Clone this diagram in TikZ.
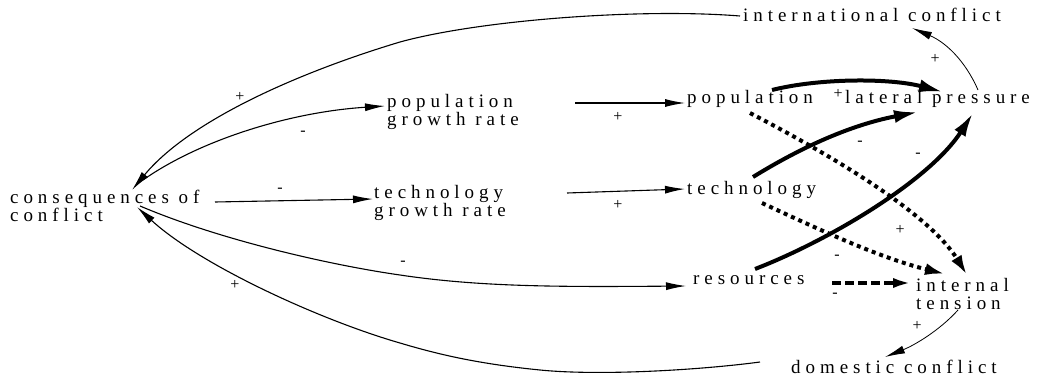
\documentclass[tikz,border=0pt]{standalone}
\usepackage{fontspec}
\setmainfont{Liberation Serif}
\newfontfamily\spaced{Liberation Serif}[LetterSpace=26]
\usetikzlibrary{arrows.meta,calc}
\tikzset{
  txt/.style={anchor=west,inner sep=0pt,align=left,font=\spaced\fontsize{19}{18}\selectfont},
  sgn/.style={inner sep=0pt,font=\fontsize{16}{16}\selectfont},
  thin/.style={line width=1.1pt,-{Latex[length=20pt,width=8pt]}},
  thick/.style={line width=4pt,-{Latex[length=24pt,width=13pt]}},
  dotline/.style={line width=4pt,dash pattern=on 4pt off 4pt,-{Latex[length=20pt,width=12pt]}},
  dashline/.style={line width=4pt,dash pattern=on 9pt off 4pt,-{Latex[length=20pt,width=10pt]}},
}
\begin{document}
\begin{tikzpicture}[x=1pt,y=-1pt]
\useasboundingbox (0,0) rectangle (1048,377);
\node[txt] (intl) at (743,15) {international conflict};
\node[txt] (popgr) at (387,112) {population\\growth rate};
\node[txt] (pop) at (687,99) {population};
\node[txt] (lat) at (845,99) {lateral pressure};
\node[txt] (cons) at (10,206) {consequences of\\conflict};
\node[txt] (techgr) at (374,203) {technology\\growth rate};
\node[txt] (tech) at (687,190) {technology};
\node[txt] (res) at (693,280) {resources};
\node[txt] (tens) at (916,294) {internal\\tension};
\node[txt] (dom) at (791,367) {domestic conflict};
% thin connectors
\draw[thin] ($(intl.west)+(-3,1)$) .. controls (640,8) and (480,20) .. (400,42)
  .. controls (300,72) and (190,120) .. ($(cons.west)+(122,-16)$);
\draw[thin] ($(cons.west)+(133,-26)$) .. controls (200,140) and (290,112) .. ($(popgr.west)+(-2,-6)$);
\draw[thin] ($(cons.west)+(205,-4)$) -- ($(techgr.west)+(-1,-4)$);
\draw[thin] ($(popgr.west)+(188,-9)$) -- ($(pop.west)+(-2,4)$);
\draw[thin] ($(techgr.west)+(193,-10)$) -- ($(tech.west)+(-2,-1)$);
\draw[thin] ($(cons.west)+(130,0)$) .. controls (220,240) and (330,265) .. (400,275)
  .. controls (480,287) and (560,287) .. ($(res.west)+(-7,6)$);
\draw[thin] ($(dom.west)+(-31,-5)$) .. controls (700,370) and (600,376) .. (540,370)
  .. controls (480,364) and (440,355) .. (400,343)
  .. controls (320,320) and (200,265) .. ($(cons.west)+(127,1)$);
\draw[thin,line width=0.8pt] ($(lat.west)+(133,-9)$) .. controls (965,60) and (945,42) .. ($(intl.west)+(169,13)$);
\draw[thin,line width=0.8pt] ($(tens.west)+(42,16)$) .. controls (940,330) and (915,345) .. ($(dom.west)+(94,-10)$);
% thick connectors
\draw[thick] ($(pop.west)+(85,-9)$) .. controls (820,78) and (890,78) .. ($(lat.west)+(98,-7)$);
\draw[thick] ($(tech.west)+(66,-13)$) .. controls (800,148) and (850,125) .. ($(lat.west)+(73,13)$);
\draw[thick] ($(res.west)+(62,-11)$) .. controls (830,240) and (930,180) .. ($(lat.west)+(128,14)$);
% dotted / dashed
\draw[dotline] ($(pop.west)+(63,14)$) .. controls (840,160) and (930,215) .. ($(tens.west)+(51,-19)$);
\draw[dotline] ($(tech.west)+(75,13)$) .. controls (820,230) and (880,258) .. ($(tens.west)+(29,-20)$);
\draw[dashline] ($(res.west)+(139,3)$) -- ($(tens.west)+(-3,-11)$);
% signs
\node[sgn] (s1) at (240,97) {+};
\node[sgn] (s2) at (303,133) {-};
\node[sgn] (s3) at (280,190) {-};
\node[sgn] (s4) at (618,117) {+};
\node[sgn] (s5) at (618,205) {+};
\node[sgn] (s6) at (403,263) {-};
\node[sgn] (s7) at (235,285) {+};
\node[sgn] (s8) at (838,94) {+};
\node[sgn] (s9) at (860,143) {-};
\node[sgn] (s10) at (918,155) {-};
\node[sgn] (s11) at (900,230) {+};
\node[sgn] (s12) at (837,257) {-};
\node[sgn] (s13) at (835,295) {-};
\node[sgn] (s14) at (935,59) {+};
\node[sgn] (s15) at (917,326) {+};
\end{tikzpicture}
\end{document}
